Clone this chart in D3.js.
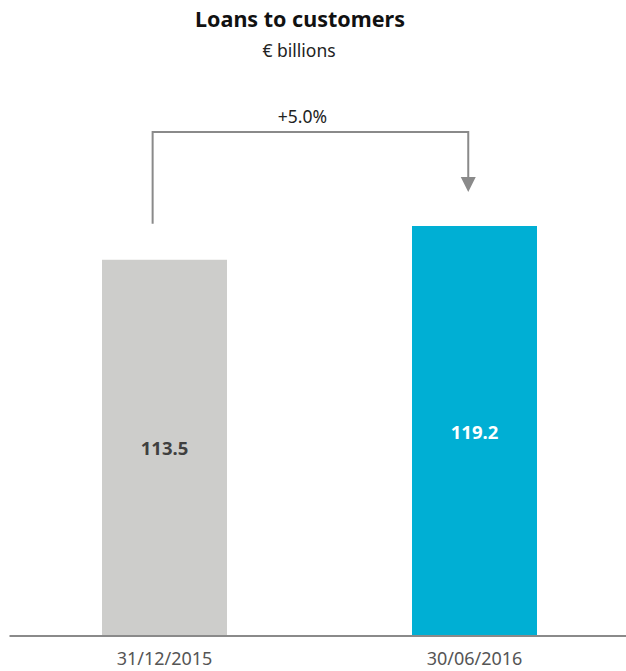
<!DOCTYPE html>
<html>
<head>
<meta charset="utf-8">
<script src="https://cdn.jsdelivr.net/npm/d3@7"></script>
<style>
  html, body { margin: 0; padding: 0; background: #fff; }
  svg { display: block; }
  text { font-family: "Noto Sans", "Open Sans", sans-serif; }
</style>
</head>
<body>
<svg id="chart" width="626" height="671"></svg>
<script>
// Loans to customers, € billions
const categories = ["31/12/2015", "30/06/2016"];
const values = [113.5, 119.2];
const barColors = ["#cdcdcb", "#00afd4"];
const labelColors = ["#3f3f3f", "#ffffff"];
const changeLabel = "+5.0%";

const W = 626, H = 671;
const svg = d3.select("#chart");

const x = d3.scaleBand()
  .domain(categories)
  .range([102, 537])
  .paddingInner(185 / 310)
  .paddingOuter(0);

const y = d3.scaleLinear()
  .domain([50, 119.2])
  .range([636, 226]);

// Title block
svg.append("text")
  .attr("x", 300).attr("y", 27)
  .attr("text-anchor", "middle")
  .attr("font-size", 21.5).attr("font-weight", 700)
  .attr("fill", "#111")
  .text("Loans to customers");
svg.append("text")
  .attr("x", 299).attr("y", 57)
  .attr("text-anchor", "middle")
  .attr("font-size", 17.5)
  .attr("fill", "#222")
  .text("€ billions");

// Bars
svg.append("g").selectAll("rect")
  .data(values)
  .join("rect")
  .attr("x", (d, i) => x(categories[i]))
  .attr("width", x.bandwidth())
  .attr("y", d => y(d))
  .attr("height", d => y.range()[0] - y(d))
  .attr("fill", (d, i) => barColors[i]);

// Value labels inside bars
svg.append("g").selectAll("text")
  .data(values)
  .join("text")
  .attr("x", (d, i) => x(categories[i]) + x.bandwidth() / 2)
  .attr("y", d => (y(d) + y.range()[0]) / 2 + 7.5)
  .attr("text-anchor", "middle")
  .attr("font-size", 18.5).attr("font-weight", 700)
  .attr("fill", (d, i) => labelColors[i])
  .text(d => d.toFixed(1));

// Baseline axis
const axis = d3.axisBottom(x).tickSize(0).tickPadding(16);
const gx = svg.append("g")
  .attr("transform", `translate(0,${y.range()[0]})`)
  .call(axis);
gx.select(".domain").remove();
gx.append("line")
  .attr("x1", 9.5).attr("x2", W)
  .attr("y1", 0).attr("y2", 0)
  .attr("stroke", "#8a8a8a").attr("stroke-width", 2);
gx.selectAll(".tick text")
  .attr("font-family", "\"Noto Sans\", sans-serif")
  .attr("font-size", 18)
  .attr("fill", "#555");

// Change bracket from the first bar to the second
const x0 = x(categories[0]) + x.bandwidth() * 0.405;
const x1 = x(categories[1]) + x.bandwidth() * 0.45;
const topY = 132;
const startY = y(values[0]) - 36;
const tipY = y(values[1]) - 34;
const headH = 15, headW = 7.5;

svg.append("path")
  .attr("d", `M${x0},${startY} V${topY} H${x1} V${tipY - headH + 1}`)
  .attr("fill", "none")
  .attr("stroke", "#8a8a8a")
  .attr("stroke-width", 2);
svg.append("path")
  .attr("d", `M${x1 - headW},${tipY - headH} L${x1 + headW},${tipY - headH} L${x1},${tipY} Z`)
  .attr("fill", "#8a8a8a");

svg.append("text")
  .attr("x", (x0 + x1) / 2 - 8).attr("y", 123)
  .attr("text-anchor", "middle")
  .attr("font-size", 17.5)
  .attr("fill", "#222")
  .text(changeLabel);
</script>
</body>
</html>
